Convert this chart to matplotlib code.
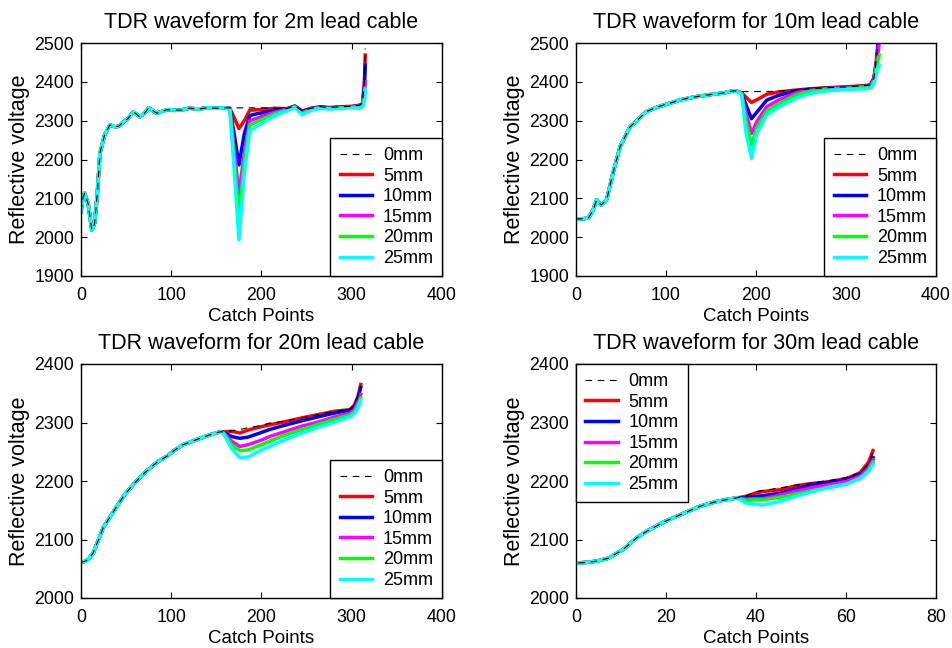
import matplotlib
matplotlib.use("Agg")
import matplotlib.pyplot as plt

plt.rcParams['font.family'] = ['Liberation Sans', 'DejaVu Sans']

labels = ['0mm', '5mm', '10mm', '15mm', '20mm', '25mm']
colors = ['k', '#ff0000', '#0000ff', '#ff00ff', '#00ff00', '#00ffff']
titles = ['TDR waveform for 2m lead cable', 'TDR waveform for 10m lead cable',
          'TDR waveform for 20m lead cable', 'TDR waveform for 30m lead cable']

# ---------------- 2m ----------------
x_2m_base = [0, 2, 4, 8, 12, 15, 18, 21, 26, 32, 38, 42, 47, 52, 58, 65, 70, 75, 84, 90,
             95, 100, 110, 120, 130, 140, 150, 160]
y_2m_base = [2066, 2100, 2113, 2085, 2018, 2035, 2110, 2216, 2262, 2289, 2284, 2286, 2297,
             2305, 2323, 2310, 2318, 2333, 2319, 2324, 2328, 2328, 2327, 2332, 2330, 2333,
             2332, 2333]
x_2m_tail = [165, 170, 175, 181, 187, 195, 205, 215, 228, 237, 245, 255, 265, 275, 290, 300,
             309, 312, 314, 315]
y_2m_0 = [2333, 2333, 2333, 2333, 2333, 2333, 2333, 2332, 2331, 2338, 2325, 2332, 2336, 2334,
          2336, 2337, 2340, 2345, 2400, 2486]
y_2m_5 = [2332, 2306, 2280, 2300, 2327, 2328, 2330, 2332, 2331, 2338, 2325, 2332, 2336, 2334,
          2336, 2337, 2340, 2345, 2400, 2469]
y_2m_10 = [2331, 2262, 2186, 2267, 2313, 2318, 2322, 2328, 2330, 2337, 2323, 2331, 2335, 2333,
           2335, 2336, 2339, 2343, 2390, 2443]
y_2m_15 = [2330, 2220, 2109, 2220, 2300, 2306, 2315, 2322, 2329, 2336, 2320, 2330, 2334, 2332,
           2334, 2335, 2338, 2342, 2370, 2400]
y_2m_20 = [2329, 2190, 2057, 2195, 2289, 2298, 2308, 2318, 2327, 2335, 2318, 2329, 2333, 2331,
           2333, 2334, 2336, 2340, 2360, 2383]
y_2m_25 = [2328, 2164, 1993, 2164, 2275, 2285, 2300, 2313, 2325, 2334, 2315, 2327, 2332, 2330,
           2332, 2333, 2332, 2336, 2350, 2379]

# ---------------- 10m ----------------
x_10m_base = [0, 5, 10, 14, 19, 23, 28, 34, 41, 49, 60, 70, 78, 87, 97, 106, 115, 125, 134,
              143, 152, 163, 175, 180]
y_10m_base = [2047, 2047, 2048, 2050, 2070, 2096, 2083, 2096, 2164, 2233, 2284, 2305, 2323,
              2332, 2340, 2346, 2353, 2358, 2362, 2365, 2368, 2371, 2377, 2375]
x_10m_tail = [184, 189, 195, 201, 212, 225, 245, 260, 280, 300, 320, 327, 331, 334, 337]
y_10m_0 = [2375, 2375, 2375, 2375, 2375, 2376, 2379, 2382, 2385, 2387, 2390, 2392, 2410, 2460,
           2530]
y_10m_5 = [2372, 2360, 2347, 2354, 2368, 2374, 2379, 2382, 2385, 2387, 2390, 2392, 2410, 2460,
           2530]
y_10m_10 = [2371, 2340, 2305, 2322, 2353, 2365, 2377, 2381, 2384, 2386, 2389, 2391, 2408, 2455,
            2530]
y_10m_15 = [2370, 2318, 2267, 2298, 2336, 2353, 2372, 2378, 2383, 2385, 2388, 2390, 2405, 2450,
            2500]
y_10m_20 = [2369, 2298, 2237, 2282, 2325, 2343, 2367, 2376, 2381, 2383, 2386, 2387, 2400, 2440,
            2469]
y_10m_25 = [2368, 2268, 2203, 2268, 2315, 2335, 2358, 2370, 2377, 2380, 2382, 2383, 2395, 2425,
            2443]

# ---------------- 20m ----------------
x_20m_base = [0, 5, 9, 13.5, 19, 24.6, 32, 39.5, 48, 58, 67, 76.5, 85, 94.9, 104, 113, 122,
              131.9, 143, 154]
y_20m_base = [2061, 2063, 2068, 2077, 2098, 2120, 2138, 2156, 2176, 2194, 2209, 2222, 2233,
              2242, 2253, 2262, 2267, 2273, 2279, 2284]
x_20m_tail = [158, 167, 176, 185, 200, 209, 225, 245, 261, 280, 298, 303, 307, 310]
y_20m_0 = [2284, 2286, 2288, 2291, 2295, 2299, 2302, 2308, 2313, 2319, 2323, 2330, 2345, 2362]
y_20m_5 = [2284, 2285, 2282, 2287, 2293, 2296, 2301, 2308, 2313, 2319, 2322, 2330, 2345, 2365]
y_20m_10 = [2283, 2276, 2273, 2275, 2283, 2288, 2295, 2303, 2309, 2316, 2321, 2328, 2342, 2360]
y_20m_15 = [2282, 2268, 2259, 2262, 2270, 2276, 2284, 2294, 2300, 2309, 2316, 2322, 2335, 2348]
y_20m_20 = [2282, 2262, 2252, 2253, 2262, 2268, 2278, 2288, 2296, 2305, 2313, 2318, 2330, 2342]
y_20m_25 = [2281, 2255, 2240, 2241, 2253, 2259, 2270, 2282, 2291, 2300, 2310, 2315, 2325, 2338]

# ---------------- 30m ----------------
x_30m_base = [0.5, 2.5, 4.6, 7.2, 10.5, 13.5, 15.7, 19.8, 23.1, 27.6, 31.3, 34, 35.7]
y_30m_base = [2060, 2061, 2063, 2068, 2083, 2103, 2114, 2131, 2142, 2157, 2165, 2169, 2171]
x_30m_tail = [37.9, 40.1, 41.6, 45.3, 49, 52.7, 56.4, 60, 63.1, 65, 66]
y_30m_0 = [2175, 2182, 2184, 2188, 2193, 2197, 2201, 2206, 2214, 2230, 2250]
y_30m_5 = [2174, 2180, 2182, 2185, 2192, 2196, 2199, 2204, 2214, 2232, 2252]
y_30m_10 = [2171, 2174, 2175, 2179, 2187, 2194, 2198, 2202, 2211, 2225, 2240]
y_30m_15 = [2169, 2170, 2170, 2176, 2183, 2189, 2194, 2199, 2208, 2222, 2236]
y_30m_20 = [2167, 2168, 2168, 2172, 2178, 2184, 2189, 2195, 2204, 2218, 2232]
y_30m_25 = [2162, 2160, 2159, 2165, 2174, 2182, 2190, 2194, 2205, 2216, 2228]

panels = [
    (x_2m_base, y_2m_base, x_2m_tail, [y_2m_0, y_2m_5, y_2m_10, y_2m_15, y_2m_20, y_2m_25]),
    (x_10m_base, y_10m_base, x_10m_tail, [y_10m_0, y_10m_5, y_10m_10, y_10m_15, y_10m_20, y_10m_25]),
    (x_20m_base, y_20m_base, x_20m_tail, [y_20m_0, y_20m_5, y_20m_10, y_20m_15, y_20m_20, y_20m_25]),
    (x_30m_base, y_30m_base, x_30m_tail, [y_30m_0, y_30m_5, y_30m_10, y_30m_15, y_30m_20, y_30m_25]),
]
xlims = [(0, 400), (0, 400), (0, 400), (0, 80)]
ylims = [(1900, 2500), (1900, 2500), (2000, 2400), (2000, 2400)]
xticks = [[0, 100, 200, 300, 400]] * 3 + [[0, 20, 40, 60, 80]]
yticks = [[1900, 2000, 2100, 2200, 2300, 2400, 2500]] * 2 + [[2000, 2100, 2200, 2300, 2400]] * 2
leg_loc = ['lower right', 'lower right', 'lower right', 'upper left']

W, H = 953, 648
fig = plt.figure(figsize=(W / 100, H / 100), dpi=100)
boxes = [(81, 43, 442, 276), (576, 43, 936, 276), (81, 364, 442, 598), (576, 364, 936, 598)]

for i, (xb, yb, xt, ys) in enumerate(panels):
    l, t, r, b = boxes[i]
    ax = fig.add_axes([l / W, 1 - b / H, (r - l) / W, (b - t) / H])
    for j, yt in enumerate(ys):
        xx = list(xb) + list(xt)
        yy = list(yb) + list(yt)
        if j == 0:
            ax.plot(xx, yy, color='k', lw=0.8, linestyle=(0, (6, 5)), label=labels[j], zorder=3)
        else:
            ax.plot(xx, yy, color=colors[j], lw=2.5, label=labels[j], zorder=2 + j * 0.01)
    ax.set_xlim(*xlims[i])
    ax.set_ylim(*ylims[i])
    ax.set_xticks(xticks[i])
    ax.set_yticks(yticks[i])
    ax.tick_params(direction='in', top=True, right=True, labelsize=12.8, length=4, width=0.8)
    ax.tick_params(axis='x', pad=8)
    ax.tick_params(axis='y', pad=5)
    for s in ax.spines.values():
        s.set_linewidth(1.0)
    ax.set_title(titles[i], fontsize=15.5, pad=11)
    ax.set_xlabel('Catch Points', fontsize=13.5, labelpad=3)
    ax.set_ylabel('Reflective voltage', fontsize=15.5, labelpad=3)
    leg = ax.legend(loc=leg_loc[i], borderaxespad=0, fancybox=False, edgecolor='k',
                    fontsize=13, handlelength=1.8, handletextpad=0.6, labelspacing=0.2,
                    borderpad=0.5, framealpha=1)
    leg.get_frame().set_linewidth(1.0)

fig.savefig('out.png', dpi=100)
